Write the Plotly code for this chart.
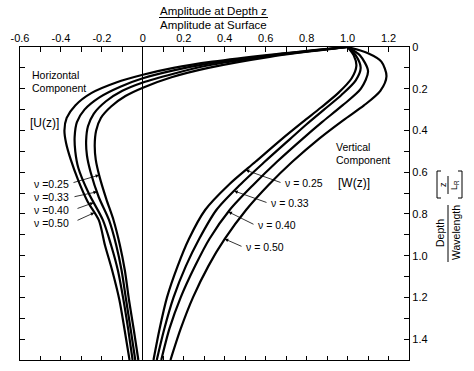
import numpy as np
import plotly.graph_objects as go

# ---------------- data ----------------
nu_labels = ["0.25", "0.33", "0.40", "0.50"]

# Horizontal component U(z): depth and amplitude ratio
u_depth_025 = [0, 0.047, 0.10, 0.145, 0.195, 0.235, 0.285, 0.34, 0.40, 0.47, 0.54, 0.62, 0.73, 0.83, 0.95, 1.07, 1.21, 1.35, 1.5]
u_amp_025 = [1.0, 0.62, 0.32, 0.14, 0.0, -0.085, -0.155, -0.205, -0.228, -0.235, -0.23, -0.212, -0.178, -0.143, -0.112, -0.088, -0.068, -0.045, -0.022]
u_depth_033 = [0, 0.043, 0.09, 0.128, 0.17, 0.21, 0.26, 0.32, 0.38, 0.45, 0.52, 0.60, 0.72, 0.83, 0.95, 1.07, 1.21, 1.35, 1.5]
u_amp_033 = [1.0, 0.62, 0.31, 0.15, 0.0, -0.10, -0.18, -0.24, -0.268, -0.277, -0.273, -0.255, -0.215, -0.165, -0.13, -0.104, -0.082, -0.06, -0.037]
u_depth_040 = [0, 0.04, 0.08, 0.112, 0.15, 0.19, 0.24, 0.30, 0.36, 0.43, 0.50, 0.58, 0.70, 0.83, 0.95, 1.07, 1.21, 1.35, 1.5]
u_amp_040 = [1.0, 0.62, 0.32, 0.15, 0.0, -0.11, -0.21, -0.285, -0.322, -0.333, -0.33, -0.315, -0.265, -0.195, -0.155, -0.122, -0.095, -0.072, -0.05]
u_depth_050 = [0, 0.036, 0.07, 0.10, 0.133, 0.17, 0.22, 0.28, 0.34, 0.40, 0.46, 0.54, 0.64, 0.74, 0.83, 0.95, 1.07, 1.21, 1.35, 1.5]
u_amp_050 = [1.0, 0.63, 0.34, 0.15, 0.0, -0.13, -0.25, -0.33, -0.372, -0.383, -0.375, -0.352, -0.315, -0.27, -0.215, -0.185, -0.15, -0.115, -0.09, -0.065]

# Vertical component W(z)
w_depth_025 = [0, 0.04, 0.09, 0.15, 0.22, 0.29, 0.36, 0.44, 0.55, 0.66, 0.78, 0.92, 1.05, 1.2, 1.35, 1.5]
w_amp_025 = [1.0, 1.03, 1.043, 1.02, 0.955, 0.87, 0.78, 0.68, 0.55, 0.42, 0.305, 0.225, 0.17, 0.118, 0.082, 0.052]
w_depth_033 = [0, 0.04, 0.10, 0.16, 0.23, 0.30, 0.37, 0.44, 0.55, 0.66, 0.78, 0.92, 1.05, 1.2, 1.35, 1.5]
w_amp_033 = [1.0, 1.04, 1.064, 1.04, 0.97, 0.885, 0.80, 0.72, 0.595, 0.475, 0.36, 0.275, 0.21, 0.15, 0.105, 0.068]
w_depth_040 = [0, 0.04, 0.116, 0.20, 0.28, 0.36, 0.44, 0.55, 0.66, 0.78, 0.92, 1.05, 1.2, 1.35, 1.5]
w_amp_040 = [1.0, 1.06, 1.10, 1.065, 0.975, 0.875, 0.78, 0.655, 0.54, 0.425, 0.325, 0.255, 0.185, 0.13, 0.09]
w_depth_050 = [0, 0.03, 0.07, 0.14, 0.21, 0.28, 0.35, 0.44, 0.55, 0.66, 0.78, 0.92, 1.05, 1.2, 1.35, 1.5]
w_amp_050 = [1.0, 1.10, 1.165, 1.19, 1.16, 1.08, 0.98, 0.86, 0.73, 0.615, 0.505, 0.40, 0.32, 0.245, 0.185, 0.135]

u_curves = [(u_depth_025, u_amp_025), (u_depth_033, u_amp_033), (u_depth_040, u_amp_040), (u_depth_050, u_amp_050)]
w_curves = [(w_depth_025, w_amp_025), (w_depth_033, w_amp_033), (w_depth_040, w_amp_040), (w_depth_050, w_amp_050)]

x_tick_vals = [round(-0.6 + 0.1 * i, 1) for i in range(20)]
x_tick_text = ["-0.6", "", "-0.4", "", "-0.2", "", "0", "", "0.2", "", "0.4", "", "0.6", "", "0.8", "", "1.0", "", "1.2", ""]
y_tick_vals = [round(0.1 * i, 1) for i in range(16)]
y_tick_text = ["0", "", "0.2", "", "0.4", "", "0.6", "", "0.8", "", "1.0", "", "1.2", "", "1.4", ""]

# depths where the label arrows touch the curves
u_arrow_depths = [0.614, 0.694, 0.746, 0.794]
w_arrow_depths = [0.59, 0.69, 0.79, 0.92]

# ---------------- layout geometry ----------------
W, H = 474, 371
L, R, T, B = 20, 65, 47, 11
PW, PH = W - L - R, H - T - B
XR = [-0.6, 1.3]
YR = [1.5, 0.0]
FONT = "Liberation Sans"


def pxp(x):
    return (x - L) / PW


def pyp(y):
    return (H - B - y) / PH


def data_to_px(x, z):
    return L + (x - XR[0]) / (XR[1] - XR[0]) * PW, T + (z - YR[1]) / (YR[0] - YR[1]) * PH


fig = go.Figure()
for d, a in u_curves + w_curves:
    fig.add_trace(go.Scatter(x=a, y=d, mode="lines",
                             line=dict(color="black", width=2.2, shape="spline", smoothing=0.8),
                             hoverinfo="skip", showlegend=False))
# invisible trace to anchor the mirrored axes
fig.add_trace(go.Scatter(x=[0], y=[0], xaxis="x2", yaxis="y2", mode="markers",
                         marker=dict(opacity=0), showlegend=False, hoverinfo="skip"))

axis_common = dict(showline=True, linecolor="black", linewidth=1.2, showgrid=False, automargin=False,
                   ticks="inside", tickcolor="black", tickwidth=1, mirror=False)

fig.update_layout(
    width=W, height=H,
    margin=dict(l=L, r=R, t=T, b=B, autoexpand=False),
    paper_bgcolor="white", plot_bgcolor="white",
    font=dict(family=FONT, color="black", size=11),
    xaxis=dict(range=XR, tickvals=x_tick_vals, showticklabels=False, ticklen=4,
               zeroline=True, zerolinecolor="black", zerolinewidth=1, side="bottom", **axis_common),
    xaxis2=dict(range=XR, overlaying="x", side="top", tickvals=x_tick_vals, ticktext=x_tick_text,
                ticklen=5, zeroline=False, tickfont=dict(size=11, family=FONT), **axis_common),
    yaxis=dict(range=YR, tickvals=y_tick_vals, showticklabels=False, ticklen=5,
               zeroline=False, side="left", **axis_common),
    yaxis2=dict(range=YR, overlaying="y", side="right", tickvals=y_tick_vals, ticktext=y_tick_text,
                ticklen=5, zeroline=False, tickfont=dict(size=11, family=FONT), **axis_common),
)

ann = []
shapes = []


def text_at(t, x, y, size=11, angle=0, xanchor="center"):
    ann.append(dict(text=t, x=pxp(x), y=pyp(y), xref="paper", yref="paper", showarrow=False,
                    xanchor=xanchor, yanchor="middle", textangle=angle,
                    font=dict(family=FONT, size=size, color="black")))


def line_px(x0, y0, x1, y1, w=1):
    shapes.append(dict(type="line", xref="paper", yref="paper", x0=pxp(x0), y0=pyp(y0),
                       x1=pxp(x1), y1=pyp(y1), line=dict(color="black", width=w)))


# title fraction
text_at("Amplitude at Depth z", 213, 11, 11.5)
line_px(159, 17.5, 268, 17.5)
text_at("Amplitude at Surface", 213, 25, 11.5)

# component labels
text_at("Horizontal", 30, 75, 10.5, xanchor="left")
text_at("Component", 30, 88, 10.5, xanchor="left")
text_at("[U(z)]", 28, 123, 12, xanchor="left")
text_at("Vertical", 334, 147, 10.5, xanchor="left")
text_at("Component", 334, 160, 10.5, xanchor="left")
text_at("[W(z)]", 336, 183, 12, xanchor="left")

# right axis title
text_at("Depth", 440, 233, 10.5, angle=-90)
line_px(448, 205, 448, 262)
text_at("Wavelength", 456, 233, 10.5, angle=-90)
# bracket [z / L_R]
shapes.append(dict(type="path", xref="paper", yref="paper", line=dict(color="black", width=1),
                   path=f"M {pxp(441)} {pyp(171)} L {pxp(437)} {pyp(171)} L {pxp(437)} {pyp(198)} L {pxp(441)} {pyp(198)}"))
shapes.append(dict(type="path", xref="paper", yref="paper", line=dict(color="black", width=1),
                   path=f"M {pxp(458)} {pyp(171)} L {pxp(462)} {pyp(171)} L {pxp(462)} {pyp(198)} L {pxp(458)} {pyp(198)}"))
text_at("z", 443, 185, 9, angle=-90)
line_px(448, 176, 448, 194)
text_at("L<sub>R</sub>", 455, 185, 9, angle=-90)

# nu labels (left, horizontal component)
left_label_y = [184, 197, 210, 223]
left_tail = [(72, 183), (73, 197), (76, 209), (76, 221)]
for i, lab in enumerate(nu_labels):
    text_at("ν =" + lab, 32, left_label_y[i], 10.5, xanchor="left")
    d, a = u_curves[i]
    zt = u_arrow_depths[i]
    xt = float(np.interp(zt, d, a))
    tx, ty = data_to_px(xt, zt)
    ann.append(dict(x=xt, y=zt, xref="x", yref="y", text="", showarrow=True,
                    ax=left_tail[i][0] - tx, ay=left_tail[i][1] - ty,
                    arrowhead=2, arrowsize=0.9, arrowwidth=0.8, arrowcolor="black"))

# nu labels (right, vertical component)
right_label_pos = [(283, 183), (269, 203), (256, 225), (244, 247)]
for i, lab in enumerate(nu_labels):
    text_at("ν = " + lab, right_label_pos[i][0], right_label_pos[i][1], 10.5, xanchor="left")
    d, a = w_curves[i]
    zt = w_arrow_depths[i]
    xt = float(np.interp(zt, d, a))
    tx, ty = data_to_px(xt, zt)
    ann.append(dict(x=xt, y=zt, xref="x", yref="y", text="", showarrow=True,
                    ax=right_label_pos[i][0] - 1 - tx, ay=right_label_pos[i][1] - ty,
                    arrowhead=2, arrowsize=0.9, arrowwidth=0.8, arrowcolor="black"))

fig.update_layout(annotations=ann, shapes=shapes)
fig.write_html("out.html", config={"displayModeBar": False},
               post_script="document.body.style.margin='0';document.body.style.overflow='hidden';")
